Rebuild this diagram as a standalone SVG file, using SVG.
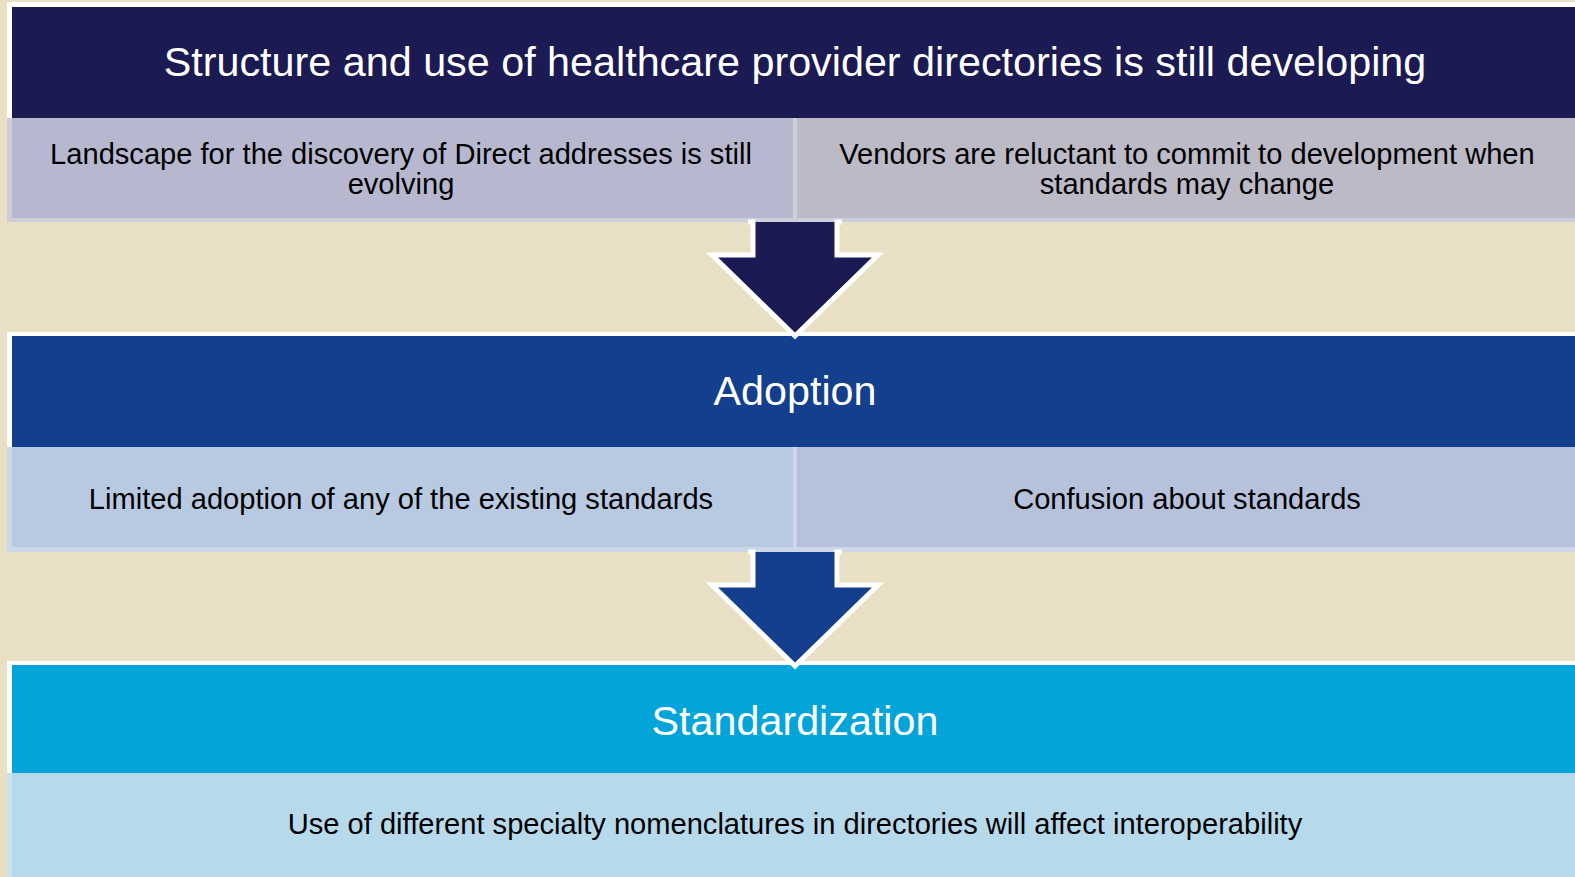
<svg xmlns="http://www.w3.org/2000/svg" width="1575" height="877" viewBox="0 0 1575 877">
  <defs>
    <style>
      .hdr { font-family: "Liberation Sans", Arial, sans-serif; font-size: 41.3px; fill: #ffffff; text-anchor: middle; }
      .sub { font-family: "Liberation Sans", Arial, sans-serif; font-size: 29.1px; fill: #000000; text-anchor: middle; }
      .frame { fill: #ffffff; }
      .arrowline { fill: none; stroke: #ffffff; stroke-width: 5; stroke-linejoin: miter; }
    </style>
  </defs>
  <rect x="0" y="0" width="1575" height="877" fill="#E8DFC4"/>

  <g id="panel-structure">
    <rect class="frame" x="7" y="2" width="1580" height="220"/>
    <rect x="12" y="7" width="1575" height="111" fill="#1B1A52"/>
    <rect x="7" y="118" width="1580" height="104" fill="#CDCEDC"/>
    <rect x="12" y="118" width="781" height="100" fill="#B7B8CF"/>
    <rect x="797" y="118" width="790" height="100" fill="#BCBAC6"/>
    <text class="hdr" x="795" y="76">Structure and use of healthcare provider directories is still developing</text>
    <text class="sub" x="401" y="164">Landscape for the discovery of Direct addresses is still</text>
    <text class="sub" x="401" y="194">evolving</text>
    <text class="sub" x="1187" y="164">Vendors are reluctant to commit to development when</text>
    <text class="sub" x="1187" y="194">standards may change</text>
  </g>

  <g id="panel-adoption">
    <rect class="frame" x="7" y="332" width="1580" height="220"/>
    <rect x="12" y="336" width="1575" height="111" fill="#133F8C"/>
    <rect x="7" y="447" width="1580" height="105" fill="#CCD8E9"/>
    <rect x="12" y="447" width="781" height="100" fill="#B8C9E2"/>
    <rect x="797" y="447" width="790" height="100" fill="#B6C2DC"/>
    <text class="hdr" x="795" y="405">Adoption</text>
    <text class="sub" x="401" y="509">Limited adoption of any of the existing standards</text>
    <text class="sub" x="1187" y="509">Confusion about standards</text>
  </g>

  <g id="panel-standardization">
    <rect class="frame" x="7" y="661" width="1580" height="220"/>
    <rect x="12" y="665" width="1575" height="108" fill="#03A4DA"/>
    <rect x="7" y="773" width="1580" height="110" fill="#C9E2F0"/>
    <rect x="12" y="773" width="1575" height="110" fill="#B7D9EC"/>
    <text class="hdr" x="795" y="735">Standardization</text>
    <text class="sub" x="795" y="834">Use of different specialty nomenclatures in directories will affect interoperability</text>
  </g>

  <g id="connectors">
    <g id="arrow-1">
      <polygon points="753,222 837,222 837,255 878,255 795,336 712,255 753,255" fill="#1B1A52"/>
      <polyline class="arrowline" points="748,222 753,222 753,255 712,255 795,336 878,255 837,255 837,222 842,222"/>
    </g>
    <g id="arrow-2">
      <polygon points="753,552 837,552 837,585 878,585 795,666 712,585 753,585" fill="#133F8C"/>
      <polyline class="arrowline" points="748,552 753,552 753,585 712,585 795,666 878,585 837,585 837,552 842,552"/>
    </g>
  </g>
</svg>
